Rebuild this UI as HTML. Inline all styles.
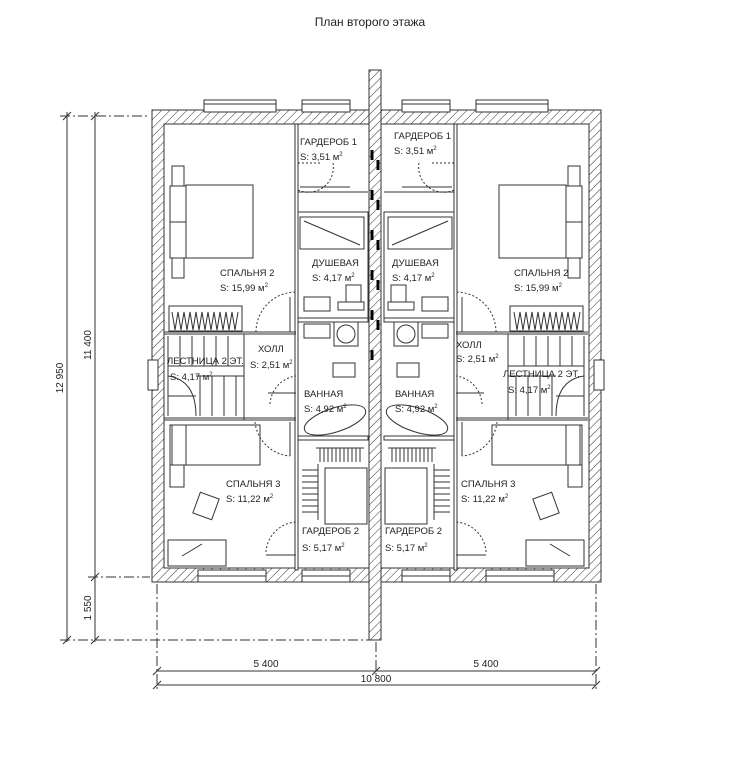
<!DOCTYPE html>
<html><head><meta charset="utf-8"><style>
html,body{margin:0;padding:0;background:#fff;}
svg{display:block;}
text{font-family:"Liberation Sans",sans-serif;fill:#222;}
</style></head><body>
<svg width="741" height="767" viewBox="0 0 741 767" xmlns="http://www.w3.org/2000/svg">
<defs>
<pattern id="h" patternUnits="userSpaceOnUse" width="6" height="6" patternTransform="rotate(45)">
<rect width="6" height="6" fill="#fff"/><line x1="0" y1="0" x2="0" y2="6" stroke="#333" stroke-width="1"/>
</pattern>
<g id="half" fill="none" stroke="#333" stroke-width="1">
  <!-- top windows -->
  <rect x="204" y="100" width="72" height="4" fill="#fff"/>
  <rect x="204" y="104" width="72" height="8" fill="#fff"/>
  <rect x="302" y="100" width="48" height="4" fill="#fff"/>
  <rect x="302" y="104" width="48" height="8" fill="#fff"/>
  <!-- bottom windows -->
  <rect x="198" y="570" width="68" height="12" fill="#fff"/>
  <line x1="198" y1="576" x2="266" y2="576"/>
  <rect x="302" y="570" width="48" height="12" fill="#fff"/>
  <line x1="302" y1="576" x2="350" y2="576"/>
  <!-- side window (stairs) -->
  <rect x="148" y="360" width="10" height="30" fill="#fff"/>
  <!-- partitions -->
  <rect x="295" y="124" width="3" height="446" fill="#fff" stroke-width="1"/>
  <line x1="298" y1="192" x2="368" y2="192"/>
  <rect x="298" y="212" width="70" height="106"/>
  <rect x="298" y="318" width="70" height="4"/>
  <rect x="298" y="436" width="70" height="4"/>
  <line x1="164" y1="332" x2="296" y2="332"/>
  <line x1="164" y1="334" x2="296" y2="334"/>
  <line x1="244" y1="334" x2="244" y2="420"/>
  <line x1="164" y1="418" x2="296" y2="418"/>
  <line x1="164" y1="420" x2="296" y2="420"/>
  <!-- garderob1 -->
  <path d="M298 163 H320 M333 163 A25 25 0 0 1 298 190" stroke-dasharray="2 2"/>
  <line x1="300" y1="187" x2="350" y2="187"/>
  <!-- shower -->
  <rect x="300" y="217" width="64" height="32"/>
  <line x1="304" y1="221" x2="360" y2="245"/>
  <rect x="346" y="285" width="15" height="17"/>
  <rect x="338" y="302" width="26" height="8"/>
  <rect x="304" y="297" width="26" height="14"/>
  <!-- bath -->
  <rect x="304" y="324" width="26" height="14"/>
  <circle cx="346" cy="334" r="9"/>
  <rect x="334" y="322" width="24" height="24"/>
  <rect x="333" y="363" width="22" height="14"/>
  <ellipse cx="335" cy="420" rx="32" ry="12" transform="rotate(-18 335 420)"/>
  <!-- bedroom 2 -->
  <rect x="186" y="185" width="67" height="73" fill="#fff"/>
  <rect x="170" y="186" width="16" height="36"/>
  <rect x="170" y="222" width="16" height="36"/>
  <rect x="172" y="166" width="12" height="20"/>
  <rect x="172" y="258" width="12" height="20"/>
  <rect x="169" y="306" width="73" height="25"/>
  <path d="M172 312 l3 18 l3 -18 l3 18 l3 -18 l3 18 l3 -18 l3 18 l3 -18 l3 18 l3 -18 l3 18 l3 -18 l3 18 l3 -18 l3 18 l3 -18 l3 18 l3 -18 l3 18 l3 -18 l3 18 l3 -18"/>
  <path d="M256 332 A40 40 0 0 1 296 292" stroke-dasharray="2 2"/>
  <line x1="290" y1="297" x2="290" y2="332"/>
  <!-- stairs -->
  <path d="M168 336 V416 M180 336 v30 M192 336 v30 M204 336 v30 M216 336 v30 M228 336 v30 M168 366 H244 M200 376 v40 M212 376 v40 M224 376 v40 M236 376 v40 M196 376 H244"/>
  <path d="M168 376 Q196 380 196 416 M168 396 L196 396"/>
  <!-- hall door -->
  <path d="M270 404 A30 30 0 0 1 296 376" stroke-dasharray="2 2"/>
  <line x1="268" y1="393" x2="296" y2="393"/>
  <!-- bedroom 3 -->
  <rect x="170" y="425" width="90" height="40"/>
  <rect x="172" y="425" width="14" height="40"/>
  <rect x="170" y="465" width="14" height="22"/>
  <path d="M255 422 A38 38 0 0 0 290 456" stroke-dasharray="2 2"/>
  <line x1="290" y1="422" x2="290" y2="456"/>
  <rect x="196" y="495" width="20" height="22" transform="rotate(20 206 506)"/>
  <rect x="168" y="540" width="58" height="26"/>
  <line x1="182" y1="556" x2="202" y2="544"/>
  <path d="M266 552 A32 32 0 0 1 296 522" stroke-dasharray="2 2"/>
  <line x1="266" y1="555" x2="296" y2="555"/>
  <!-- garderob 2 -->
  <rect x="325" y="468" width="42" height="56"/>
  <path d="M320 448 v14 M324 448 v14 M328 448 v14 M332 448 v14 M336 448 v14 M340 448 v14 M344 448 v14 M348 448 v14 M352 448 v14 M356 448 v14 M360 448 v14 M316 448 H364"/>
  <path d="M302 470 h16 M302 476 h16 M302 482 h16 M302 488 h16 M302 494 h16 M302 500 h16 M302 506 h16 M302 512 h16 M318 464 V520"/>
</g>
</defs>

<text x="370" y="26" font-size="12" text-anchor="middle">План второго этажа</text>

<!-- outer walls -->
<path d="M152 110 H601 V582 H152 Z M164 124 V568 H589 V124 Z" fill="url(#h)" fill-rule="evenodd" stroke="#333" stroke-width="1"/>
<use href="#half"/>
<use href="#half" transform="translate(752,0) scale(-1,1)"/>
<!-- central party wall -->
<rect x="369" y="70" width="12" height="570" fill="url(#h)" stroke="#333" stroke-width="1"/>
<path d="M372 150 v10 M378 160 v10 M372 190 v10 M378 200 v10 M372 230 v10 M378 240 v10 M372 270 v10 M378 280 v10 M372 310 v10 M378 320 v10 M372 350 v10" stroke="#000" stroke-width="3"/>

<!-- dimensions -->
<g stroke="#333" stroke-width="1" fill="none">
  <line x1="67" y1="112" x2="67" y2="642"/>
  <line x1="95" y1="112" x2="95" y2="642"/>
  <line x1="60" y1="116" x2="150" y2="116" stroke-dasharray="10 3 2 3"/>
  <line x1="88" y1="577" x2="150" y2="577" stroke-dasharray="10 3 2 3"/>
  <line x1="60" y1="640" x2="370" y2="640" stroke-dasharray="10 3 2 3"/>
  <line x1="157" y1="584" x2="157" y2="692" stroke-dasharray="10 3 2 3"/>
  <line x1="376" y1="642" x2="376" y2="676" stroke-dasharray="10 3 2 3"/>
  <line x1="596" y1="584" x2="596" y2="692" stroke-dasharray="10 3 2 3"/>
  <line x1="157" y1="671" x2="596" y2="671"/>
  <line x1="157" y1="685" x2="596" y2="685"/>
  <path d="M63 120 l8 -8 M63 644 l8 -8 M91 120 l8 -8 M91 581 l8 -8 M91 644 l8 -8 M153 675 l8 -8 M372 675 l8 -8 M592 675 l8 -8 M153 689 l8 -8 M592 689 l8 -8"/>
</g>
<text font-size="10" transform="translate(63 378) rotate(-90)" text-anchor="middle">12 950</text>
<text font-size="10" transform="translate(91 345) rotate(-90)" text-anchor="middle">11 400</text>
<text font-size="10" transform="translate(91 608) rotate(-90)" text-anchor="middle">1 550</text>
<text x="266" y="667" font-size="10" text-anchor="middle">5 400</text>
<text x="486" y="667" font-size="10" text-anchor="middle">5 400</text>
<text x="376" y="682" font-size="10" text-anchor="middle">10 800</text>

<!-- labels -->
<g font-size="9.5">
<text x="300" y="145">ГАРДЕРОБ 1</text><text x="300" y="160">S: 3,51 м<tspan font-size="6" dy="-4">2</tspan></text>
<text x="394" y="139">ГАРДЕРОБ 1</text><text x="394" y="154">S: 3,51 м<tspan font-size="6" dy="-4">2</tspan></text>
<text x="312" y="266">ДУШЕВАЯ</text><text x="312" y="281">S: 4,17 м<tspan font-size="6" dy="-4">2</tspan></text>
<text x="392" y="266">ДУШЕВАЯ</text><text x="392" y="281">S: 4,17 м<tspan font-size="6" dy="-4">2</tspan></text>
<text x="220" y="276">СПАЛЬНЯ 2</text><text x="220" y="291">S: 15,99 м<tspan font-size="6" dy="-4">2</tspan></text>
<text x="514" y="276">СПАЛЬНЯ 2</text><text x="514" y="291">S: 15,99 м<tspan font-size="6" dy="-4">2</tspan></text>
<text x="258" y="352">ХОЛЛ</text><text x="250" y="368">S: 2,51 м<tspan font-size="6" dy="-4">2</tspan></text>
<text x="456" y="348">ХОЛЛ</text><text x="456" y="362">S: 2,51 м<tspan font-size="6" dy="-4">2</tspan></text>
<text x="167" y="364">ЛЕСТНИЦА 2 ЭТ.</text><text x="170" y="380">S: 4,17 м<tspan font-size="6" dy="-4">2</tspan></text>
<text x="503" y="377">ЛЕСТНИЦА 2 ЭТ.</text><text x="508" y="393">S: 4,17 м<tspan font-size="6" dy="-4">2</tspan></text>
<text x="304" y="397">ВАННАЯ</text><text x="304" y="412">S: 4,92 м<tspan font-size="6" dy="-4">2</tspan></text>
<text x="395" y="397">ВАННАЯ</text><text x="395" y="412">S: 4,92 м<tspan font-size="6" dy="-4">2</tspan></text>
<text x="226" y="487">СПАЛЬНЯ 3</text><text x="226" y="502">S: 11,22 м<tspan font-size="6" dy="-4">2</tspan></text>
<text x="461" y="487">СПАЛЬНЯ 3</text><text x="461" y="502">S: 11,22 м<tspan font-size="6" dy="-4">2</tspan></text>
<text x="302" y="534">ГАРДЕРОБ 2</text><text x="302" y="551">S: 5,17 м<tspan font-size="6" dy="-4">2</tspan></text>
<text x="385" y="534">ГАРДЕРОБ 2</text><text x="385" y="551">S: 5,17 м<tspan font-size="6" dy="-4">2</tspan></text>
</g>
</svg>
</body></html>
